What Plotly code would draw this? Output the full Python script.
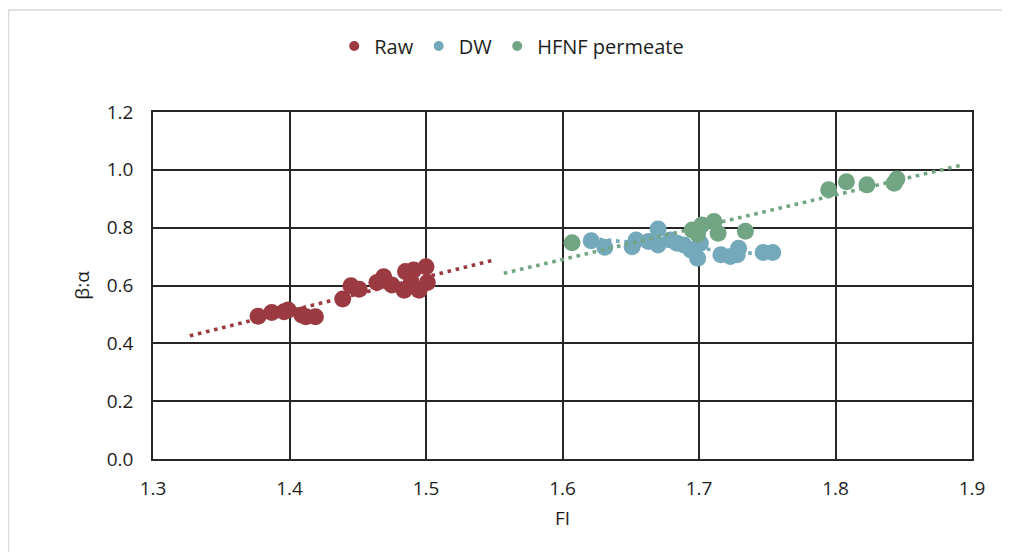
import plotly.graph_objects as go

# ---- data ----
raw_fi = [1.377, 1.387, 1.396, 1.399, 1.409, 1.412, 1.419, 1.439, 1.445, 1.451,
          1.464, 1.469, 1.475, 1.485, 1.484, 1.491, 1.500, 1.495, 1.501, 1.489]
raw_ba = [0.494, 0.507, 0.509, 0.515, 0.498, 0.492, 0.492, 0.553, 0.599, 0.587,
          0.610, 0.630, 0.602, 0.648, 0.584, 0.654, 0.665, 0.584, 0.610, 0.607]

dw_fi = [1.621, 1.631, 1.651, 1.654, 1.663, 1.670, 1.670, 1.679, 1.684, 1.689,
         1.694, 1.699, 1.701, 1.716, 1.723, 1.729, 1.728, 1.747, 1.754]
dw_ba = [0.755, 0.732, 0.734, 0.757, 0.752, 0.795, 0.740, 0.757, 0.746, 0.740,
         0.723, 0.694, 0.746, 0.706, 0.700, 0.729, 0.706, 0.714, 0.714]

hf_fi = [1.607, 1.695, 1.699, 1.702, 1.711, 1.714, 1.734, 1.795, 1.808, 1.823, 1.843, 1.845]
hf_ba = [0.748, 0.792, 0.778, 0.809, 0.821, 0.781, 0.788, 0.931, 0.959, 0.948, 0.954, 0.968]

# linear trendline end points
raw_trend_fi = [1.327, 1.548]
raw_trend_ba = [0.426, 0.686]
dw_trend_fi = [1.621, 1.754]
dw_trend_ba = [0.762, 0.705]
hf_trend_fi = [1.557, 1.894]
hf_trend_ba = [0.642, 1.018]

x_ticks = [1.3, 1.4, 1.5, 1.6, 1.7, 1.8, 1.9]
y_ticks = [0.0, 0.2, 0.4, 0.6, 0.8, 1.0, 1.2]

C_RAW = "#9B3A40"
C_DW = "#74A8BB"
C_HF = "#72A583"
FONT = "Open Sans"
TXT = "#1E1E1E"

fig = go.Figure()

series = [("Raw", raw_fi, raw_ba, raw_trend_fi, raw_trend_ba, C_RAW),
          ("DW", dw_fi, dw_ba, dw_trend_fi, dw_trend_ba, C_DW),
          ("HFNF permeate", hf_fi, hf_ba, hf_trend_fi, hf_trend_ba, C_HF)]

for name, xs, ys, tx, ty, col in series:
    fig.add_trace(go.Scatter(x=xs, y=ys, mode="markers", name=name, showlegend=False,
                             marker=dict(color=col, size=17, line=dict(width=0))))

for name, xs, ys, tx, ty, col in series:
    fig.add_trace(go.Scatter(x=tx, y=ty, mode="lines", showlegend=False,
                             hoverinfo="skip",
                             line=dict(color=col, width=3.6, dash="3.6px,4.7px")))

for name, xs, ys, tx, ty, col in series:
    fig.add_trace(go.Scatter(x=[None], y=[None], mode="markers", name=name,
                             marker=dict(color=col, size=10)))

grid = "#262626"
fig.update_xaxes(range=[1.3, 1.9], tickvals=x_ticks, ticktext=[f"{v:.1f}" for v in x_ticks],
                 showgrid=True, gridcolor=grid, gridwidth=1.6,
                 showline=True, linecolor=grid, linewidth=1.6, mirror=True,
                 zeroline=False, ticks="", ticklabelstandoff=11,
                 tickfont=dict(family=FONT, size=19, color=TXT),
                 title=dict(text="FI", font=dict(family=FONT, size=19, color=TXT), standoff=12))
fig.update_yaxes(range=[0, 1.2], tickvals=y_ticks, ticktext=[f"{v:.1f}" for v in y_ticks],
                 showgrid=True, gridcolor=grid, gridwidth=1.6,
                 showline=True, linecolor=grid, linewidth=1.6, mirror=True,
                 zeroline=False, ticks="", ticklabelstandoff=14,
                 tickfont=dict(family=FONT, size=19, color=TXT),
                 title=dict(text="β:α", font=dict(family=FONT, size=19, color=TXT), standoff=12))

# page body has an 8px margin: figure is drawn from (8, 8)
OFF = 8
W, H = 1002, 544
L, R, T, B = 153 - OFF, 38, 112 - OFF, 93
pw, ph = W - L - R, H - T - B
bottom_px = OFF + H - B  # page y of the x axis


def px2paper_x(px):
    return (px - (OFF + L)) / pw


def py2paper_y(py):
    return (bottom_px - py) / ph


fig.add_shape(type="rect", xref="paper", yref="paper",
              x0=px2paper_x(8.5), x1=px2paper_x(1200),
              y0=py2paper_y(700), y1=py2paper_y(10),
              line=dict(color="#D9D9D9", width=1.5), fillcolor="rgba(0,0,0,0)", layer="below")

fig.update_layout(width=W, height=H, margin=dict(l=L, r=R, t=T, b=B),
                  paper_bgcolor="white", plot_bgcolor="white",
                  font=dict(family=FONT, color=TXT),
                  legend=dict(orientation="h", x=0.438, xanchor="center",
                              y=py2paper_y(46), yanchor="middle",
                              font=dict(family=FONT, size=20, color=TXT),
                              itemwidth=30, bgcolor="rgba(0,0,0,0)"))

fig.write_html("out.html")
